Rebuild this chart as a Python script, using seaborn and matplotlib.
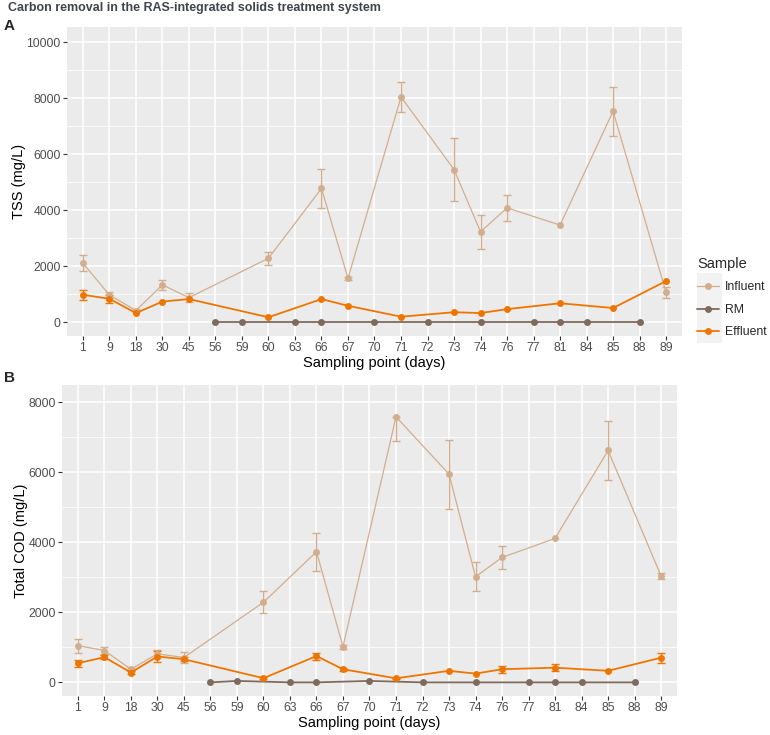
import numpy as np
import pandas as pd
import matplotlib
matplotlib.use("Agg")
import matplotlib.pyplot as plt
import seaborn as sns
from matplotlib.lines import Line2D
from matplotlib.patches import Rectangle

# ---------------- data ----------------
day_labels = ["1", "9", "18", "30", "45", "56", "59", "60", "63", "66", "67", "70",
              "71", "72", "73", "74", "76", "77", "81", "84", "85", "88", "89"]

inf_days = ["1", "9", "18", "30", "45", "60", "66", "67", "71", "73", "74", "76", "81", "85", "89"]
eff_days = ["1", "9", "18", "30", "45", "60", "66", "67", "71", "73", "74", "76", "81", "85", "89"]
rm_days = ["56", "59", "63", "66", "70", "72", "74", "77", "81", "84", "88"]

tss_influent = [2100, 970, 410, 1330, 870, 2280, 4775, 1560, 8045, 5450, 3225, 4080, 3465, 7535, 1060]
tss_influent_err = [280, 100, 40, 180, 150, 230, 700, 60, 520, 1140, 600, 475, 0, 870, 185]
tss_effluent = [975, 830, 320, 730, 820, 170, 820, 580, 190, 350, 320, 460, 670, 500, 1465]
tss_effluent_err = [180, 150, 0, 0, 0, 0, 0, 0, 0, 0, 0, 0, 0, 0, 0]
tss_rm = [0, 0, 0, 0, 0, 0, 0, 0, 0, 0, 0]

cod_influent = [1050, 910, 376, 815, 710, 2290, 3733, 1020, 7590, 5952, 3019, 3571, 4114, 6629, 3038]
cod_influent_err_lo = [200, 110, 40, 110, 150, 310, 550, 60, 695, 990, 420, 340, 0, 840, 80]
cod_influent_err_hi = [200, 110, 40, 110, 150, 310, 550, 60, 0, 990, 420, 340, 0, 840, 80]
cod_effluent = [547, 720, 280, 738, 662, 119, 752, 375, 115, 330, 250, 375, 420, 330, 705]
cod_effluent_err = [100, 60, 40, 170, 50, 30, 100, 40, 20, 0, 0, 100, 100, 0, 140]
cod_rm = [0, 40, 0, 0, 40, 0, 0, 0, 0, 0, 0]

samples = ["Influent", "RM", "Effluent"]
palette = {"Influent": "#D2AE8E", "RM": "#7F6B5D", "Effluent": "#EE7600"}
widths = {"Influent": 0.9, "RM": 1.3, "Effluent": 1.3}

pos = {d: i for i, d in enumerate(day_labels)}

# ---------------- style ----------------
sns.set_theme(style="darkgrid", rc={
    "axes.facecolor": "#EBEBEB",
    "grid.color": "white",
    "axes.edgecolor": "none",
    "xtick.bottom": True, "ytick.left": True,
    "xtick.color": "#333333", "ytick.color": "#333333",
    "xtick.major.size": 3, "ytick.major.size": 3,
    "xtick.major.width": 0.8, "ytick.major.width": 0.8,
    "xtick.major.pad": 1.5, "ytick.major.pad": 1.5,
})
plt.rcParams['font.family'] = ['Liberation Sans', 'DejaVu Sans']

fig = plt.figure(figsize=(7.7, 7.35), dpi=100)
W, H = 770, 735


def ax_rect(l, t, r, b):
    return [l / W, 1 - b / H, (r - l) / W, (b - t) / H]


axA = fig.add_axes(ax_rect(67, 27, 682, 336))
axB = fig.add_axes(ax_rect(62, 385, 677, 696))


def make_df(inf, rm, eff):
    rows = []
    for name, days, vals in [("Influent", inf_days, inf), ("RM", rm_days, rm), ("Effluent", eff_days, eff)]:
        for d, v in zip(days, vals):
            rows.append({"Sample": name, "x": pos[d], "value": v})
    return pd.DataFrame(rows)


def draw_panel(ax, inf, inf_lo, inf_hi, rm, eff, eff_err, ylim, yticks, yminor, ylabel):
    df = make_df(inf, rm, eff)
    for name, days, vals, lo, hi in [("Influent", inf_days, inf, inf_lo, inf_hi),
                                     ("Effluent", eff_days, eff, eff_err, eff_err)]:
        xs = np.array([pos[d] for d in days])
        v = np.array(vals, float)
        lo = np.array(lo, float)
        hi = np.array(hi, float)
        m = (lo > 0) | (hi > 0)
        ax.errorbar(xs[m], v[m], yerr=[lo[m], hi[m]], fmt="none", ecolor=palette[name],
                    elinewidth=1.0, capsize=2.6, capthick=1.0, zorder=2)
    sns.lineplot(data=df, x="x", y="value", hue="Sample", hue_order=samples, palette=palette,
                 size="Sample", sizes=widths, size_order=samples,
                 marker="o", markersize=5.0, markeredgewidth=0, estimator=None,
                 errorbar=None, legend=False, ax=ax, zorder=3)
    ax.set_xlim(-0.6, len(day_labels) - 1 + 0.6)
    ax.set_xticks(range(len(day_labels)))
    ax.set_xticklabels(day_labels, fontsize=8.8, color="#4D4D4D")
    ax.set_ylim(*ylim)
    ax.set_yticks(yticks)
    ax.set_yticklabels([str(t) for t in yticks], fontsize=8.8, color="#4D4D4D")
    ax.set_yticks(yminor, minor=True)
    ax.tick_params(axis="y", which="minor", length=0)
    ax.grid(which="major", color="white", linewidth=1.1)
    ax.grid(which="minor", axis="y", color="white", linewidth=0.55)
    ax.set_xlabel("Sampling point (days)", fontsize=10.5, color="black", labelpad=1.5)
    ax.set_ylabel(ylabel, fontsize=10.5, color="black", labelpad=0)
    for s in ax.spines.values():
        s.set_visible(False)


draw_panel(axA, tss_influent, tss_influent_err, tss_influent_err, tss_rm,
           tss_effluent, tss_effluent_err, (-500, 10546),
           [0, 2000, 4000, 6000, 8000, 10000], [1000, 3000, 5000, 7000, 9000], "TSS (mg/L)")
draw_panel(axB, cod_influent, cod_influent_err_lo, cod_influent_err_hi, cod_rm,
           cod_effluent, cod_effluent_err, (-390, 8500),
           [0, 2000, 4000, 6000, 8000], [1000, 3000, 5000, 7000], "Total COD (mg/L)")

# titles and panel tags
fig.text(8 / W, 1 - 8 / H, "Carbon removal in the RAS-integrated solids treatment system",
         fontsize=9, fontweight="bold", color="#3F4450", va="center", ha="left")
fig.text(4 / W, 1 - 26 / H, "A", fontsize=11, fontweight="bold", va="center", ha="left")
fig.text(4 / W, 1 - 378 / H, "B", fontsize=11, fontweight="bold", va="center", ha="left")

# legend
fig.patches.append(Rectangle((697 / W, 1 - 343 / H), 25 / W, 70 / H, transform=fig.transFigure,
                             facecolor="#F2F2F2", edgecolor="none", zorder=0))
handles = [Line2D([], [], color=palette[s], linewidth=widths[s], marker="o",
                  markersize=5.0, markeredgewidth=0) for s in samples]
leg = fig.legend(handles, samples, title="Sample", loc="upper left",
                 bbox_to_anchor=(691 / W, 1 - 251 / H), frameon=False,
                 fontsize=8.8, title_fontsize=10.5, handlelength=1.8,
                 handletextpad=0.5, labelspacing=0.85, borderpad=0)
leg._legend_box.align = "left"

fig.savefig("out.png", dpi=100)
